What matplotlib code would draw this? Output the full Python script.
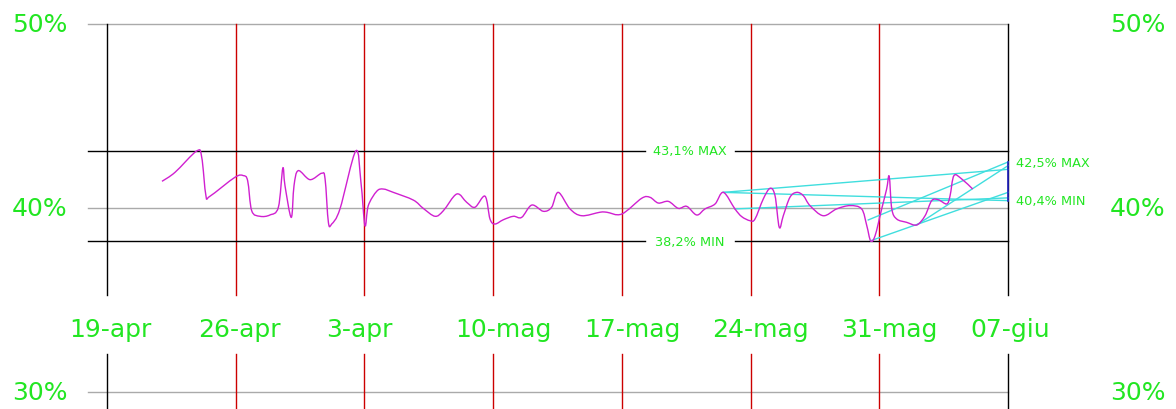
import matplotlib
matplotlib.use('Agg')
import matplotlib.pyplot as plt
from matplotlib.path import Path
from matplotlib.patches import PathPatch

# ---------------- data ----------------
tick_days = [0, 7, 14, 21, 28, 35, 42, 49]
tick_labels = ["19-apr", "26-apr", "3-apr", "10-mag", "17-mag", "24-mag", "31-mag", "07-giu"]
y_levels = [30, 40, 50]
y_labels = ["30%", "40%", "50%"]

days = [2.99, 3.70, 4.88, 5.15, 5.38, 5.60, 6.96, 7.41, 7.65, 7.87, 8.32, 8.86, 9.32, 9.56,
        9.68, 10.02, 10.17, 10.40, 11.04, 11.68, 11.86, 12.04, 12.22, 12.67, 13.53, 13.81,
        14.03, 14.21, 14.67, 15.03, 15.57, 16.66, 17.20, 17.84, 18.29, 19.02, 19.56, 20.01,
        20.56, 20.83, 21.10, 21.55, 22.10, 22.55, 23.10, 23.73, 24.18, 24.54, 25.18, 25.82,
        26.81, 27.18, 27.99, 29.08, 29.53, 29.98, 30.53, 31.07, 31.53, 32.07, 32.52, 33.07,
        33.52, 34.15, 34.52, 34.97, 35.24, 35.69, 36.06, 36.33, 36.56, 36.78, 37.14, 37.51,
        37.87, 38.23, 38.95, 39.68, 40.41, 41.04, 41.32, 41.53, 41.77, 42.13, 42.40, 42.54,
        42.68, 42.95, 43.49, 44.04, 44.49, 44.85, 45.21, 45.67, 45.85, 46.06, 46.48, 47.08]
values = [41.45, 41.94, 43.10, 42.76, 40.67, 40.64, 41.67, 41.76, 41.48, 39.85, 39.55, 39.62,
          40.04, 42.16, 41.21, 39.49, 41.21, 42.03, 41.54, 41.89, 41.58, 39.22, 39.13, 39.95,
          43.10, 41.40, 39.04, 40.13, 40.91, 41.03, 40.85, 40.43, 39.98, 39.55, 39.85, 40.76,
          40.31, 40.04, 40.64, 39.40, 39.13, 39.36, 39.55, 39.49, 40.16, 39.82, 40.04, 40.85,
          39.95, 39.58, 39.77, 39.77, 39.67, 40.53, 40.58, 40.27, 40.36, 39.98, 40.09, 39.62,
          39.95, 40.22, 40.85, 39.95, 39.53, 39.31, 39.40, 40.49, 41.07, 40.67, 38.95, 39.58,
          40.58, 40.85, 40.67, 40.13, 39.58, 39.95, 40.13, 39.95, 39.04, 38.22, 38.49, 39.95,
          41.03, 41.72, 39.95, 39.40, 39.22, 39.08, 39.58, 40.40, 40.45, 40.22, 40.67, 41.76,
          41.58, 41.03]

hist_max, hist_min = 43.1, 38.2
recent_max, recent_min = 42.5, 40.4
hist_max_label = "43,1% MAX"
hist_min_label = "38,2% MIN"
recent_max_label = "42,5% MAX"
recent_min_label = "40,4% MIN"

# trend lines: (start day, start value, end day, end value)
trend_x0 = [33.52, 33.52, 34.15, 41.40, 41.53, 44.04]
trend_y0 = [40.85, 40.85, 39.95, 39.35, 38.22, 39.08]
trend_x1 = [49.0, 49.0, 49.0, 49.0, 49.0, 49.0]
trend_y1 = [42.10, 40.40, 40.55, 42.50, 40.85, 42.30]

# ---------------- layout ----------------
W, H = 1176, 410
PX0 = 107.0            # pixel of day 0
PPD = 901.0 / 49.0     # pixels per day
PY40 = 209.0           # pixel row of 40%
PPV = 18.4             # pixels per percentage point


def dx(px):
    return (px - PX0) / PPD


def vy(py):
    return 40.0 + (PY40 - py) / PPV


def smooth_path(xs, ys, k=1.0 / 6.0):
    """Catmull-Rom style cubic Bezier path through the given points."""
    n = len(xs)
    verts = [(xs[0], ys[0])]
    codes = [Path.MOVETO]
    for i in range(n - 1):
        x0, y0 = (xs[i - 1], ys[i - 1]) if i > 0 else (xs[i], ys[i])
        x1, y1 = xs[i], ys[i]
        x2, y2 = xs[i + 1], ys[i + 1]
        x3, y3 = (xs[i + 2], ys[i + 2]) if i + 2 < n else (x2, y2)
        c1 = (x1 + (x2 - x0) * k, y1 + (y2 - y0) * k)
        c2 = (x2 - (x3 - x1) * k, y2 - (y3 - y1) * k)
        verts += [c1, c2, (x2, y2)]
        codes += [Path.CURVE4] * 3
    return Path(verts, codes)


green = '#22e622'
magenta = '#d020d0'
cyan = '#40dede'
red = '#cc0000'
grey = '#aaaaaa'

fig = plt.figure(figsize=(W / 100, H / 100), dpi=100)
fig.patch.set_facecolor('white')
ax = fig.add_axes([0, 0, 1, 1])
ax.set_xlim(dx(0), dx(W))
ax.set_ylim(vy(H), vy(0))
ax.axis('off')

# horizontal grey grid lines
for lv in y_levels:
    ax.plot([dx(88), tick_days[-1]], [lv, lv], color=grey, lw=1.0, zorder=1)

# vertical lines (interrupted where date labels sit)
for i, d in enumerate(tick_days):
    c = 'black' if i in (0, len(tick_days) - 1) else red
    ax.plot([d, d], [y_levels[-1], vy(296)], color=c, lw=1.0, zorder=2)
    ax.plot([d, d], [vy(355), vy(H)], color=c, lw=1.0, zorder=2)

# historical max/min black lines with labels in the middle
for lv, lab in ((hist_max, hist_max_label), (hist_min, hist_min_label)):
    ax.plot([dx(88), dx(645)], [lv, lv], color='black', lw=1.0, zorder=2)
    ax.plot([dx(735), tick_days[-1]], [lv, lv], color='black', lw=1.0, zorder=2)
    ax.text(dx(690), lv, lab, color=green, fontsize=9.3, ha='center', va='center',
            family='DejaVu Sans', zorder=4)

# trend lines
for x0, y0, x1, y1 in zip(trend_x0, trend_y0, trend_x1, trend_y1):
    ax.plot([x0, x1], [y0, y1], color=cyan, lw=1.0, zorder=3)

# blue bar between recent min and max at right edge
ax.plot([tick_days[-1], tick_days[-1]], [recent_min, recent_max], color='#2020c0', lw=1.2, zorder=4)

# main series (smooth curve through the points)
ax.add_patch(PathPatch(smooth_path(days, values), facecolor='none', edgecolor=magenta,
                       lw=1.0, zorder=5))

# recent max/min labels
ax.text(dx(1016), recent_max, recent_max_label, color=green, fontsize=9.3, ha='left', va='center')
ax.text(dx(1016), recent_min, recent_min_label, color=green, fontsize=9.3, ha='left', va='center')

# y labels, both sides
for lv, lab in zip(y_levels, y_labels):
    ax.text(dx(40), lv, lab, color=green, fontsize=18, ha='center', va='center')
    ax.text(dx(1138), lv, lab, color=green, fontsize=18, ha='center', va='center')

# date labels
for d, lab in zip(tick_days, tick_labels):
    ax.text(d - 38 / PPD, vy(330), lab, color=green, fontsize=18, ha='left', va='center')

fig.savefig('out.png', dpi=100, facecolor='white')
